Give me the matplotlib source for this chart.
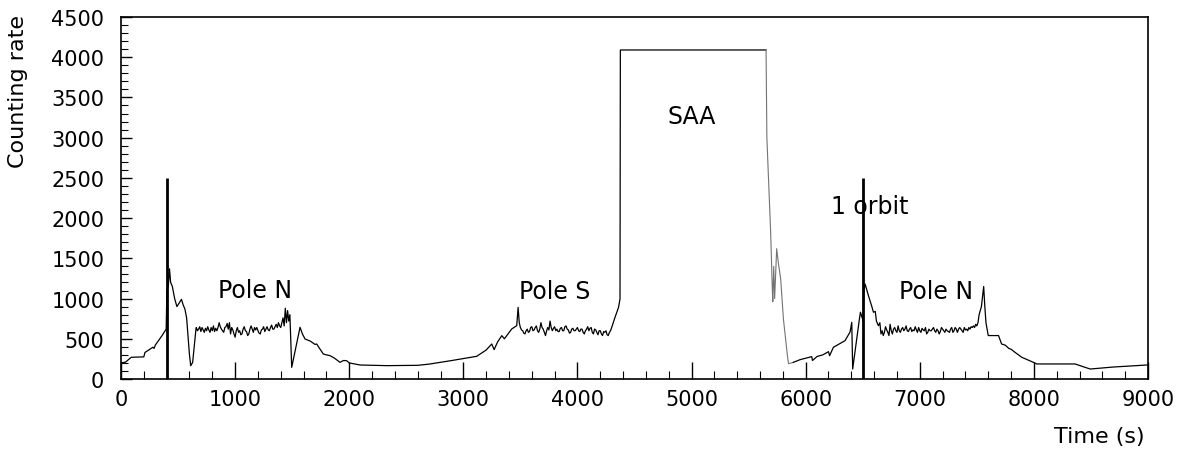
import matplotlib
matplotlib.use("Agg")
import matplotlib.pyplot as plt
import numpy as np
from matplotlib.ticker import MultipleLocator

# ---- data (counting rate vs time) ----
t_pre1 = [0, 40, 90, 200, 210, 280, 290, 300, 360, 396, 402, 415, 425, 435, 450, 470, 490,
          530, 545, 560, 575, 600, 611, 628, 657]
r_pre1 = [200, 210, 270, 275, 330, 395, 380, 420, 540, 620, 1100, 1160, 1370, 1200, 1150, 1000, 900,
          990, 920, 870, 760, 300, 165, 207, 622]

t_pole1 = np.arange(660, 1420, 10)
r_pole1 = [640, 600, 620, 650, 590, 640, 610, 580, 630, 600,
           650, 610, 580, 640, 600, 660, 590, 630, 600, 640,
           700, 650, 620, 600, 580, 640, 650, 690, 620, 700,
           560, 640, 610, 560, 520, 600, 640, 580, 600, 550,
           560, 620, 650, 600, 590, 540, 560, 620, 660, 620,
           580, 640, 610, 640, 600, 570, 560, 610, 620, 650,
           590, 620, 650, 610, 600, 640, 670, 620, 620, 650,
           680, 640, 700, 660, 640, 700]

t_mid1 = [1420, 1430, 1440, 1450, 1460, 1470, 1480, 1496, 1569, 1590, 1613, 1660, 1700, 1715,
          1740, 1773, 1800, 1832, 1870, 1919, 1950, 1977, 2000, 2095, 2330, 2600, 2700, 2900,
          3117, 3200, 3249, 3270, 3300, 3337, 3360, 3424, 3468, 3480, 3490]
r_mid1 = [760, 660, 880, 700, 850, 720, 800, 145, 643, 560, 497, 470, 430, 435,
          380, 311, 300, 290, 260, 207, 230, 228, 200, 174, 166, 170, 185, 230,
          282, 360, 435, 365, 460, 539, 500, 622, 663, 890, 700]

t_pole2 = np.arange(3500, 4300, 10)
r_pole2 = [640, 610, 600, 570, 560, 600, 620, 580, 590, 640,
           650, 600, 610, 640, 660, 600, 580, 620, 700, 640,
           620, 580, 540, 600, 640, 610, 720, 640, 600, 630,
           650, 600, 620, 590, 590, 630, 640, 600, 600, 650,
           660, 620, 610, 570, 580, 620, 630, 600, 600, 620,
           640, 600, 590, 620, 620, 580, 560, 600, 620, 650,
           600, 630, 640, 580, 560, 620, 610, 580, 550, 600,
           600, 560, 540, 590, 580, 600, 550, 540, 580, 600]

t_saa = [4300, 4330, 4360, 4373, 4376, 5653]
r_saa = [640, 770, 890, 995, 4090, 4090]

t_saa_fall = [5653, 5660, 5693, 5708, 5712, 5720, 5728, 5746, 5760, 5781, 5805, 5840, 5850, 5892]
r_saa_fall = [4090, 3000, 1830, 1100, 960, 1400, 1000, 1620, 1450, 1244, 746, 290, 190, 207]

t_orbit = [5892, 5950, 6053, 6060, 6100, 6150, 6200, 6210, 6243, 6345, 6389, 6404, 6412, 6471,
           6480, 6495, 6504, 6510, 6521, 6550, 6580, 6594, 6610, 6620, 6637, 6650, 6660]
r_orbit = [207, 240, 278, 230, 280, 300, 340, 290, 394, 477, 584, 705, 124, 746,
           830, 760, 720, 1100, 1180, 1036, 900, 830, 840, 720, 663, 700, 560]

t_pole3 = np.arange(6670, 7520, 10)
r_pole3 = [600, 540, 580, 650, 610, 580, 540, 680, 600, 560,
           620, 640, 600, 580, 660, 600, 580, 620, 640, 600,
           620, 660, 600, 590, 620, 640, 590, 610, 600, 650,
           610, 580, 640, 600, 580, 630, 610, 600, 640, 560,
           580, 620, 600, 600, 620, 640, 600, 580, 620, 600,
           560, 590, 640, 620, 600, 580, 620, 600, 590, 580,
           620, 640, 580, 600, 640, 620, 580, 620, 640, 620,
           600, 580, 640, 610, 620, 600, 640, 620, 650, 640,
           660, 640, 680, 660, 700]

t_end = [7520, 7540, 7560, 7570, 7580, 7600, 7690, 7717, 7750, 7780, 7800, 7835, 7894, 7996,
         8025, 8361, 8493, 8697, 8990]
r_end = [800, 900, 1150, 900, 700, 540, 540, 435, 420, 380, 370, 331, 270, 207,
         187, 187, 124, 149, 174]

# one-orbit marker lines
marker_t = [400, 6506]
marker_top = [2500, 2500]

labels = ["Pole N", "Pole S", "SAA", "1 orbit", "Pole N"]
label_t = [1175, 3804, 5004, 6564, 7143]
label_y = [1107, 1094, 3271, 2152, 1094]

x_ticks = [0, 1000, 2000, 3000, 4000, 5000, 6000, 7000, 8000, 9000]
y_ticks = [0, 500, 1000, 1500, 2000, 2500, 3000, 3500, 4000, 4500]

plt.rcParams['font.family'] = ['DejaVu Sans']

fig = plt.figure(figsize=(11.86, 4.52), dpi=100)
ax = fig.add_axes([121/1186, 1 - 380/452, (1148-121)/1186, (380-18)/452])

t_main = np.concatenate([t_pre1, t_pole1, t_mid1, t_pole2, t_saa])
r_main = np.concatenate([r_pre1, r_pole1, r_mid1, r_pole2, r_saa])
t_tail = np.concatenate([t_orbit, t_pole3, t_end])
r_tail = np.concatenate([r_orbit, r_pole3, r_end])

ax.plot(t_main, r_main, color='black', lw=0.9)
ax.plot(t_saa_fall, r_saa_fall, color='0.45', lw=0.8)
ax.plot(t_tail, r_tail, color='black', lw=0.9)
ax.vlines(marker_t, 0, marker_top, color='black', lw=2.0)

for s, t, y in zip(labels, label_t, label_y):
    ax.text(t, y, s, ha='center', va='center', fontsize=17)

ax.set_xlim(0, 9000)
ax.set_ylim(0, 4500)
ax.set_xticks(x_ticks)
ax.set_yticks(y_ticks)
ax.xaxis.set_minor_locator(MultipleLocator(200))
ax.yaxis.set_minor_locator(MultipleLocator(100))
ax.tick_params(axis='x', which='major', direction='in', length=12, width=1.0,
               labelsize=15, pad=7, top=False)
ax.tick_params(axis='x', which='minor', direction='in', length=6, width=0.8, top=False)
ax.tick_params(axis='y', which='major', direction='in', length=8, width=1.0,
               labelsize=15, pad=12, right=False)
ax.tick_params(axis='y', which='minor', direction='in', length=5, width=0.8, right=False)
for sp in ax.spines.values():
    sp.set_linewidth(1.2)

fig.text(1145/1186, 1 - 437/452, "Time (s)", ha='right', va='center', fontsize=16)
fig.text(18/1186, 1 - 92/452, "Counting rate", ha='center', va='center',
         rotation=90, fontsize=16)

fig.savefig("out.png", dpi=100)
